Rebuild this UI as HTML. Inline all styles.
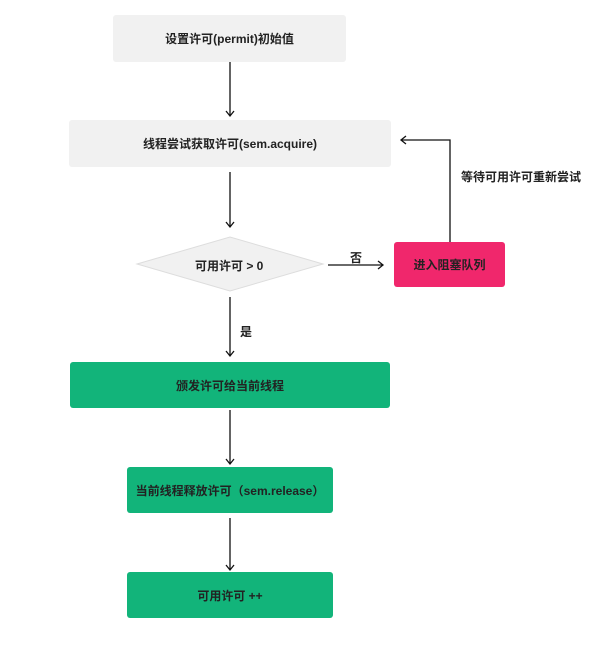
<!DOCTYPE html>
<html><head><meta charset="utf-8"><style>
body{margin:0;width:606px;height:650px;background:#fff;position:relative;font-family:"Liberation Sans","Noto Sans CJK SC",sans-serif;font-weight:bold;font-size:12px;color:#222;overflow:hidden}
.b{position:absolute;display:flex;align-items:center;justify-content:center;border-radius:3px}
.g{background:#f1f1f1}
.gr{background:#12b47a}
.t{position:absolute;font-size:12px}
</style></head><body>
<div class="b g" style="left:113px;top:15px;width:233px;height:47px">设置许可(permit)初始值</div>
<div class="b g" style="left:69px;top:120px;width:322px;height:47px">线程尝试获取许可(sem.acquire)</div>
<div class="b" style="left:394px;top:242px;width:111px;height:45px;background:#f0276c">进入阻塞队列</div>
<div class="b gr" style="left:70px;top:362px;width:320px;height:46px">颁发许可给当前线程</div>
<div class="b gr" style="left:127px;top:467px;width:206px;height:46px">当前线程释放许可（sem.release）</div>
<div class="b gr" style="left:127px;top:572px;width:206px;height:46px">可用许可 ++</div>
<svg width="606" height="650" style="position:absolute;left:0;top:0">
<polygon points="137,264 230,237 323,264 230,291" fill="#f1f1f1" stroke="#ddd"/>
<g stroke="#111" stroke-width="1.3" fill="none">
<line x1="230" y1="62" x2="230" y2="116"/><polyline points="226,111 230,116 234,111"/>
<line x1="230" y1="172" x2="230" y2="227"/><polyline points="226,222 230,227 234,222"/>
<line x1="230" y1="297" x2="230" y2="356"/><polyline points="226,351 230,356 234,351"/>
<line x1="230" y1="410" x2="230" y2="464"/><polyline points="226,459 230,464 234,459"/>
<line x1="230" y1="518" x2="230" y2="570"/><polyline points="226,565 230,570 234,565"/>
<line x1="328" y1="265" x2="383" y2="265"/><polyline points="378,261 383,265 378,269"/>
<polyline points="450,242 450,140 401,140"/><polyline points="406,136 401,140 406,144"/>
</g>
</svg>
<div class="t" style="left:195px;top:257px">可用许可 &gt; 0</div>
<div class="t" style="left:350px;top:249px">否</div>
<div class="t" style="left:240px;top:323px">是</div>
<div class="t" style="left:461px;top:168px">等待可用许可重新尝试</div>
</body></html>
